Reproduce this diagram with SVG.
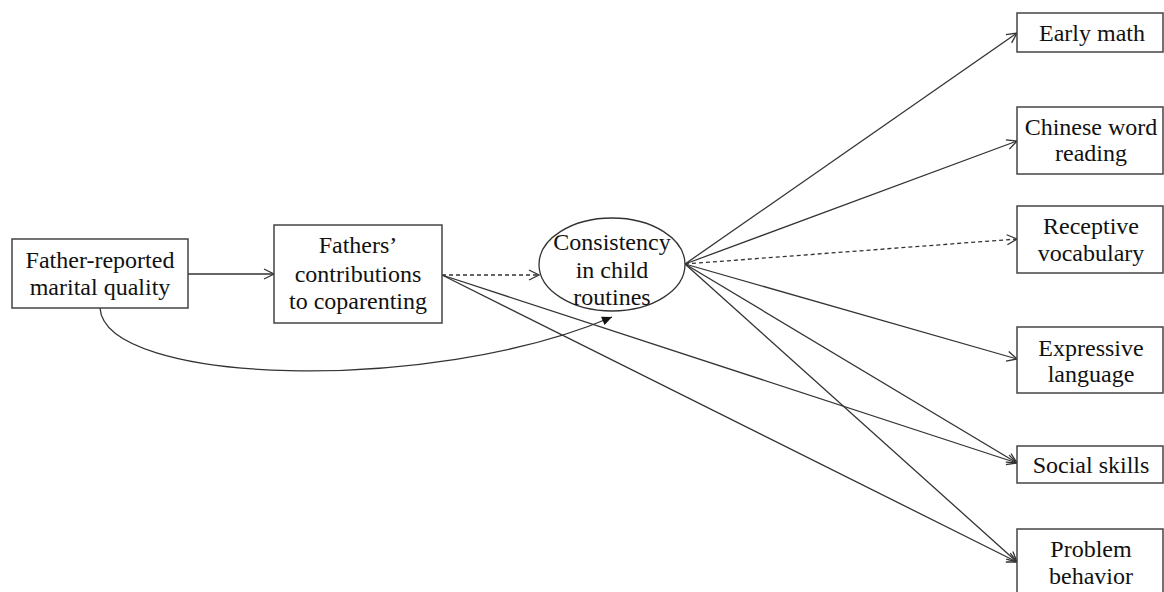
<svg xmlns="http://www.w3.org/2000/svg" width="1164" height="592" viewBox="0 0 1164 592">
<style>
.box{fill:#fff;stroke:#444;stroke-width:1.5}
.t{font-family:"Liberation Serif","Times New Roman",serif;font-size:24px;fill:#111;text-anchor:middle}
.c{fill:none;stroke:#333;stroke-width:1.3}
.d{stroke-dasharray:4,3}
</style>
<defs>
<marker id="open" markerUnits="userSpaceOnUse" markerWidth="14" markerHeight="14" viewBox="0 0 14 14" refX="12" refY="7" orient="auto">
<path d="M2,2 L12,7 L2,12" fill="none" stroke="#333" stroke-width="1.3"/>
</marker>
<marker id="filled" markerUnits="userSpaceOnUse" markerWidth="12" markerHeight="12" viewBox="0 0 12 12" refX="11" refY="6" orient="auto">
<path d="M1,1.5 L11,6 L1,10.5 Z" fill="#111"/>
</marker>
</defs>
<rect width="1164" height="592" fill="#fff"/>
<g id="connectors">
<line class="c" x1="188" y1="274" x2="274" y2="274" marker-end="url(#open)"/>
<line class="c d" x1="442" y1="275" x2="539" y2="275" marker-end="url(#open)"/>
<path class="c" d="M100,308 C105,385 430,395 612,317" marker-end="url(#filled)"/>
<line class="c" x1="685" y1="264" x2="1017" y2="33" marker-end="url(#open)"/>
<line class="c" x1="685" y1="264" x2="1017" y2="141" marker-end="url(#open)"/>
<line class="c d" x1="685" y1="264" x2="1017" y2="239" marker-end="url(#open)"/>
<line class="c" x1="685" y1="264" x2="1017" y2="359" marker-end="url(#open)"/>
<line class="c" x1="685" y1="264" x2="1017" y2="463" marker-end="url(#open)"/>
<line class="c" x1="685" y1="264" x2="1017" y2="562" marker-end="url(#open)"/>
<line class="c" x1="442" y1="275" x2="1017" y2="463" marker-end="url(#open)"/>
<line class="c" x1="442" y1="275" x2="1017" y2="562" marker-end="url(#open)"/>
</g>
<g id="marital">
<rect class="box" x="12" y="239" width="176" height="69"/>
<text class="t" x="100" y="268">Father-reported</text>
<text class="t" x="100" y="295">marital quality</text>
</g>
<g id="coparenting">
<rect class="box" x="274" y="225" width="168" height="98"/>
<text class="t" x="358" y="253">Fathers’</text>
<text class="t" x="358" y="282">contributions</text>
<text class="t" x="358" y="309">to coparenting</text>
</g>
<g id="routines">
<ellipse cx="612" cy="264.5" rx="73" ry="46.5" fill="#fff" stroke="#333" stroke-width="1.3"/>
<text class="t" x="612" y="250">Consistency</text>
<text class="t" x="612" y="278">in child</text>
<text class="t" x="612" y="305">routines</text>
</g>
<g id="earlymath">
<rect class="box" x="1017" y="13" width="146" height="39"/>
<text class="t" x="1092" y="41">Early math</text>
</g>
<g id="chinese">
<rect class="box" x="1017" y="107" width="146" height="67"/>
<text class="t" x="1091" y="135">Chinese word</text>
<text class="t" x="1091" y="161">reading</text>
</g>
<g id="receptive">
<rect class="box" x="1017" y="206" width="146" height="67"/>
<text class="t" x="1091" y="234">Receptive</text>
<text class="t" x="1091" y="261">vocabulary</text>
</g>
<g id="expressive">
<rect class="box" x="1017" y="327" width="146" height="66"/>
<text class="t" x="1091" y="356">Expressive</text>
<text class="t" x="1091" y="382">language</text>
</g>
<g id="social">
<rect class="box" x="1017" y="446" width="146" height="37"/>
<text class="t" x="1091" y="473">Social skills</text>
</g>
<g id="problem">
<rect class="box" x="1017" y="529" width="146" height="70"/>
<text class="t" x="1091" y="557">Problem</text>
<text class="t" x="1091" y="584">behavior</text>
</g>
</svg>
